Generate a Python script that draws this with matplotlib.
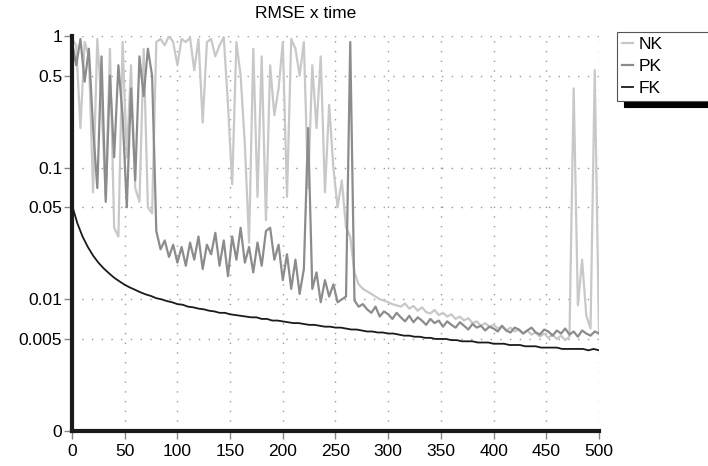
import numpy as np
import matplotlib.pyplot as plt

plt.rcParams['font.family'] = ['Liberation Sans', 'DejaVu Sans']

# time steps (NK and PK read every 4 steps, FK every 5)
t_nk = np.arange(0, 501, 4)
t_pk = np.arange(0, 501, 4)
t_fk = np.arange(0, 501, 5)

nk = [0.95, 0.85, 0.2, 0.9, 0.7, 0.065, 0.95, 0.3, 0.06, 0.8,
      0.035, 0.03, 0.9, 0.12, 0.6, 0.07, 0.055, 0.8, 0.05, 0.045,
      0.9, 0.95, 0.85, 1.0, 0.9, 0.6, 0.95, 0.9, 0.97, 0.55,
      0.95, 0.22, 0.9, 0.95, 0.7, 0.85, 0.98, 0.3, 0.075, 0.9,
      0.5, 0.15, 0.027, 0.8, 0.06, 0.7, 0.04, 0.6, 0.25, 0.4,
      0.9, 0.06, 0.95, 0.8, 0.5, 0.9, 0.07, 0.6, 0.2, 0.7,
      0.065, 0.3, 0.1, 0.05, 0.08, 0.035, 0.03, 0.016, 0.013, 0.012,
      0.0115, 0.011, 0.0105, 0.01, 0.0098, 0.0095, 0.0092, 0.009, 0.0088, 0.0093,
      0.0085, 0.0089, 0.0082, 0.0087, 0.008, 0.0078, 0.0083, 0.0076, 0.0079, 0.0074,
      0.0077, 0.0071, 0.0074, 0.0069, 0.0072, 0.0066, 0.0068, 0.0063, 0.0066, 0.0062,
      0.0064, 0.006, 0.0062, 0.0058, 0.0061, 0.0057, 0.0059, 0.0055, 0.0058, 0.0054,
      0.0056, 0.0052, 0.0055, 0.0051, 0.0054, 0.005, 0.0053, 0.0049, 0.0052, 0.4,
      0.009, 0.02, 0.0075, 0.006, 0.55, 0.0055]

pk = [0.9, 0.6, 0.95, 0.45, 0.8, 0.2, 0.07, 0.7, 0.055, 0.5,
      0.12, 0.6, 0.25, 0.05, 0.4, 0.08, 0.7, 0.35, 0.8, 0.5,
      0.033, 0.024, 0.028, 0.021, 0.026, 0.019, 0.025, 0.018, 0.027, 0.02,
      0.03, 0.017, 0.026, 0.022, 0.032, 0.018, 0.028, 0.015, 0.03, 0.02,
      0.035, 0.019, 0.025, 0.016, 0.027, 0.018, 0.033, 0.035, 0.02, 0.026,
      0.014, 0.022, 0.012, 0.02, 0.011, 0.017, 0.2, 0.012, 0.016, 0.0095,
      0.014, 0.0105, 0.013, 0.0095, 0.01, 0.0105, 0.9, 0.0098, 0.0088, 0.0092,
      0.0084, 0.0079, 0.0088, 0.0074, 0.0081, 0.0077, 0.0071, 0.0079, 0.0073, 0.0068,
      0.0075, 0.0067, 0.0073, 0.0069, 0.0064, 0.0071, 0.0066, 0.0069, 0.0062, 0.0068,
      0.0064, 0.0061, 0.0067, 0.0063, 0.0059, 0.0065, 0.0061, 0.0063, 0.0058, 0.0062,
      0.006, 0.0057, 0.0063, 0.0058, 0.0056, 0.0061, 0.0059, 0.0055, 0.0058, 0.0061,
      0.0056, 0.0054, 0.0059, 0.0057, 0.0053, 0.0058, 0.0055, 0.006, 0.0054, 0.0057,
      0.0052, 0.0058, 0.0055, 0.0053, 0.0057, 0.0055]

fk = [0.052, 0.038, 0.03, 0.025, 0.0215, 0.019, 0.0172, 0.0158, 0.0146, 0.0137,
      0.0129, 0.0123, 0.0118, 0.0113, 0.0109, 0.0106, 0.0102, 0.0100, 0.0097, 0.0095,
      0.0092, 0.0091, 0.0088, 0.0087, 0.0085, 0.0084, 0.0082, 0.0081, 0.0079, 0.0079,
      0.0077, 0.0076, 0.0075, 0.0074, 0.0073, 0.0073, 0.0071, 0.0071, 0.0069, 0.0069,
      0.0068, 0.0067, 0.0066, 0.0066, 0.0065, 0.0064, 0.0064, 0.0063, 0.0062, 0.0062,
      0.0061, 0.0061, 0.006, 0.0059, 0.0059, 0.0058, 0.0057, 0.0057, 0.0056, 0.0056,
      0.0055, 0.0055, 0.0054, 0.0053, 0.0053, 0.0052, 0.0052, 0.0051, 0.0051, 0.005,
      0.005, 0.005, 0.0049, 0.0049, 0.0048, 0.0048, 0.0048, 0.0047, 0.0047, 0.0047,
      0.0046, 0.0046, 0.0046, 0.0045, 0.0045, 0.0045, 0.0044, 0.0044, 0.0044, 0.0043,
      0.0043, 0.0043, 0.0043, 0.0042, 0.0042, 0.0042, 0.0042, 0.0042, 0.0041, 0.0042,
      0.0041]

x_ticks = [0, 50, 100, 150, 200, 250, 300, 350, 400, 450, 500]
y_ticks = [0.001, 0.005, 0.01, 0.05, 0.1, 0.5, 1]
y_labels = ['0', '0.005', '0.01', '0.05', '0.1', '0.5', '1']

fig = plt.figure(figsize=(7.08, 4.66), dpi=100)
ax = fig.add_axes([0.1017, 0.0751, 0.7443, 0.8476])

ax.plot(t_nk, nk, color='#c8c8c8', lw=1.6, label='NK', zorder=3)
ax.plot(t_pk, pk, color='#8c8c8c', lw=1.6, label='PK', zorder=4)
ax.plot(t_fk, fk, color='#1a1a1a', lw=1.3, label='FK', zorder=5)

ax.set_yscale('log')
ax.set_xlim(0, 500)
ax.set_ylim(0.001, 1)
ax.set_xticks(x_ticks)
ax.set_yticks(y_ticks)
ax.set_yticklabels(y_labels)
ax.yaxis.set_minor_locator(plt.NullLocator())

ax.grid(True, which='major', color='#999999', linestyle=(0, (1, 6)), lw=1.0)
for s in ['top', 'right']:
    ax.spines[s].set_visible(False)
for s in ['left', 'bottom']:
    ax.spines[s].set_linewidth(3)
    ax.spines[s].set_color('#1a1a1a')
    ax.spines[s].set_zorder(6)

ax.tick_params(axis='both', direction='out', length=6, width=1, color='#888888',
               labelsize=12.5)
ax.tick_params(axis='y', pad=1)
ax.tick_params(axis='x', pad=3)

fig.text(306 / 708, 1 - 18 / 466, 'RMSE x time', ha='center', va='baseline', fontsize=12.5)

leg = ax.legend(loc='upper left', bbox_to_anchor=(617 / 708, 1 - 107 / 466, 100 / 708, 75 / 466),
                bbox_transform=fig.transFigure, mode='expand', borderaxespad=0,
                fancybox=False, fontsize=12.5, handlelength=0.63, handletextpad=0.3,
                labelspacing=0.38, borderpad=0.3,
                shadow={'ox': 5, 'oy': -4, 'color': 'k', 'alpha': 1})
leg.get_frame().set_edgecolor('#555555')
leg.get_frame().set_linewidth(0.8)

plt.savefig('out.png', dpi=100)
